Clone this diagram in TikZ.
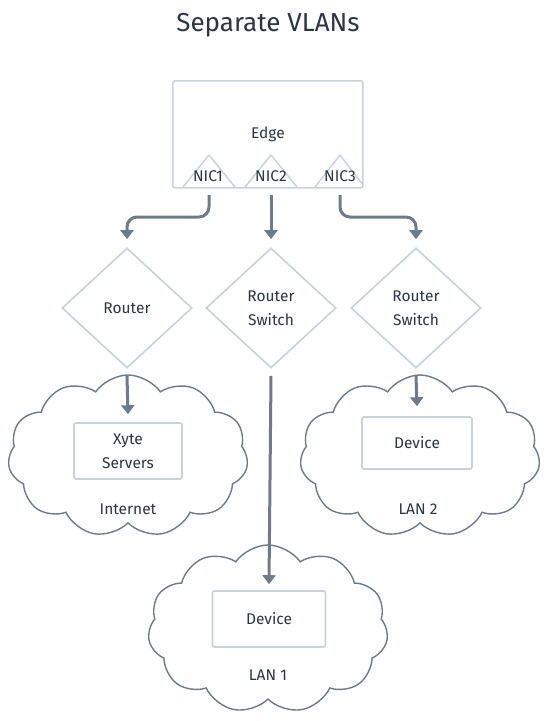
\documentclass[tikz,border=0pt]{standalone}
\usepackage{fontspec}
\setmainfont{Fira Sans}
\usetikzlibrary{shapes.geometric,shapes.symbols,arrows.meta}
\definecolor{txt}{HTML}{2B3544}
\definecolor{lite}{HTML}{C7D2DC}
\definecolor{arrc}{HTML}{6E7B89}
\definecolor{cld}{HTML}{6E7B89}
\tikzset{
  lbl/.style={text=txt,font=\fontsize{15.5}{24}\selectfont,align=center},
  boxn/.style={draw=lite,line width=1.6pt,rounded corners=2pt,lbl},
  dia/.style={diamond,draw=lite,line width=1.6pt,minimum width=130pt,minimum height=120pt,lbl,inner sep=0pt},
  cloudn/.style={cloud,cloud puffs=11,cloud puff arc=110,draw=cld,line width=1.4pt,aspect=1.5,inner sep=0pt},
  arr/.style={draw=arrc,line width=3pt,-{Triangle[width=13pt,length=9pt]},rounded corners=10pt},
  tri/.style={draw=lite,line width=1.4pt,line join=round}
}
\begin{document}
\begin{tikzpicture}[x=1pt,y=-1pt]
\useasboundingbox (0,0) rectangle (546,721);
\node[text=txt,font=\fontsize{26}{30}\selectfont] (title) at (268,25) {Separate VLANs};
% edge box
\node[boxn,minimum width=190pt,minimum height=107pt,anchor=north west,text depth=0pt] (edge) at (172,80) {};
\node[lbl] (edgel) at (268,134) {Edge};
% NIC triangles
\draw[tri] (183,187) -- (209,155) -- (235,187);
\draw[tri] (245,187) -- (271,155) -- (297,187);
\draw[tri] (315,187) -- (340,155) -- (363,185);
\node[lbl] (nic1) at (208,176) {NIC1};
\node[lbl] (nic2) at (271,176) {NIC2};
\node[lbl] (nic3) at (340,176) {NIC3};
\coordinate (n1b) at (209,195);
\coordinate (n2b) at (271,195);
\coordinate (n3b) at (340,195);
% diamonds
\node[dia] (r1) at (127,308) {Router};
\node[dia] (r2) at (271,308) {Router\\Switch};
\node[dia] (r3) at (416,308) {Router\\Switch};
% clouds
\node[cloudn,minimum width=240pt,minimum height=162pt] (inet) at (128,456) {};
\node[cloudn,minimum width=240pt,minimum height=162pt] (lan2) at (420,456) {};
\node[cloudn,minimum width=240pt,minimum height=168pt] (lan1) at (268,629) {};
% boxes
\node[boxn,minimum width=108pt,minimum height=56pt] (xyte) at (128,451) {Xyte\\Servers};
\node[boxn,minimum width=110pt,minimum height=52pt] (dev2) at (417,443) {Device};
\node[boxn,minimum width=113pt,minimum height=56pt] (dev1) at (269,619) {Device};
\node[lbl] (inetl) at (128,509) {Internet};
\node[lbl] (lan2l) at (418,509) {LAN 2};
\node[lbl] (lan1l) at (268,675) {LAN 1};
% arrows
\draw[arr] (n1b) -- (n1b |- 0,217) -- (r1.north |- 0,217) -- ([yshift=8pt]r1.north);
\draw[arr] (n2b) -- ([yshift=8pt]r2.north);
\draw[arr] (n3b) -- (n3b |- 0,217) -- (r3.north |- 0,217) -- ([yshift=8pt]r3.north);
\draw[arr] ([yshift=-7pt]r1.south) -- ([yshift=8pt]xyte.north);
\draw[arr] ([yshift=-7pt]r2.south) -- ([yshift=6pt]dev1.north);
\draw[arr] ([yshift=-7pt]r3.south) -- ([yshift=10pt]dev2.north);
\end{tikzpicture}
\end{document}
